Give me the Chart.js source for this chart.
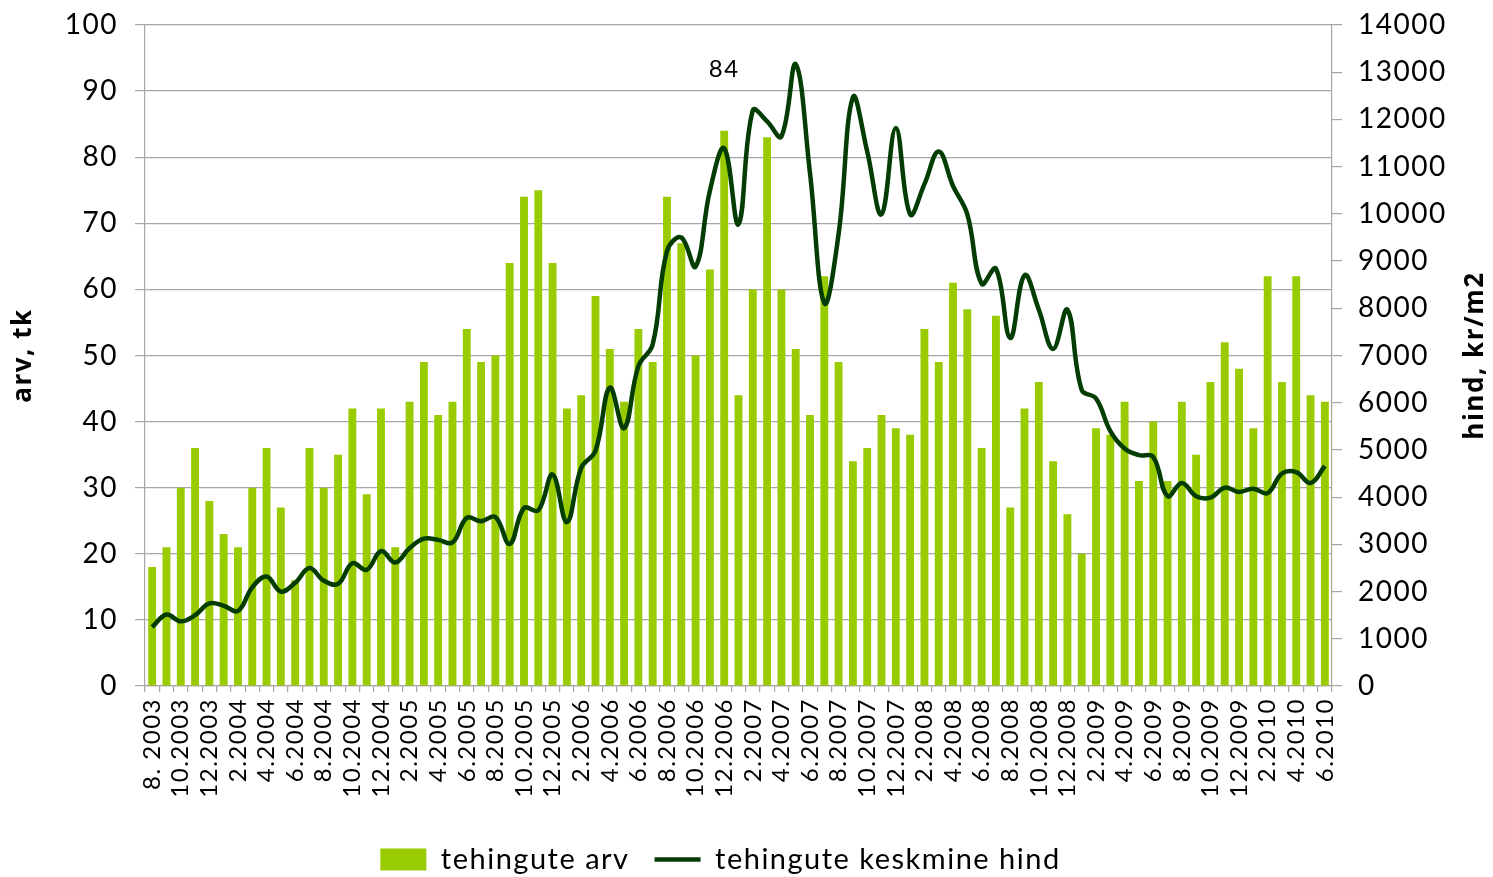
<!DOCTYPE html>
<html>
<head>
<meta charset="utf-8">
<script src="https://cdn.jsdelivr.net/npm/chart.js@4.4.1/dist/chart.umd.min.js"></script>
<style>
  html, body { margin: 0; padding: 0; background: #ffffff; overflow: hidden; }
  #wrap { width: 1493px; height: 877px; }
</style>
</head>
<body>
<div id="wrap"><canvas id="c" width="1493" height="877"></canvas></div>
<script>
// Months, Aug 2003 – Jun 2010
const months = [
  '8. 2003','9.2003','10.2003','11.2003','12.2003',
  '1.2004','2.2004','3.2004','4.2004','5.2004','6.2004','7.2004','8.2004','9.2004','10.2004','11.2004','12.2004',
  '1.2005','2.2005','3.2005','4.2005','5.2005','6.2005','7.2005','8.2005','9.2005','10.2005','11.2005','12.2005',
  '1.2006','2.2006','3.2006','4.2006','5.2006','6.2006','7.2006','8.2006','9.2006','10.2006','11.2006','12.2006',
  '1.2007','2.2007','3.2007','4.2007','5.2007','6.2007','7.2007','8.2007','9.2007','10.2007','11.2007','12.2007',
  '1.2008','2.2008','3.2008','4.2008','5.2008','6.2008','7.2008','8.2008','9.2008','10.2008','11.2008','12.2008',
  '1.2009','2.2009','3.2009','4.2009','5.2009','6.2009','7.2009','8.2009','9.2009','10.2009','11.2009','12.2009',
  '1.2010','2.2010','3.2010','4.2010','5.2010','6.2010'
];

// Number of transactions per month (left axis)
const dealCount = [
  18, 21, 30, 36, 28,
  23, 21, 30, 36, 27, 16, 36, 30, 35, 42, 29, 42,
  21, 43, 49, 41, 43, 54, 49, 50, 64, 74, 75, 64,
  42, 44, 59, 51, 43, 54, 49, 74, 67, 50, 63, 84,
  44, 60, 83, 60, 51, 41, 62, 49, 34, 36, 41, 39,
  38, 54, 49, 61, 57, 36, 56, 27, 42, 46, 34, 26,
  20, 39, 38, 43, 31, 40, 31, 43, 35, 46, 52, 48,
  39, 62, 46, 62, 44, 43
];

// Average price per m2 (right axis)
const avgPrice = [
  1250, 1515, 1370, 1500, 1750,
  1700, 1590, 2090, 2320, 2000, 2185, 2500, 2230, 2165, 2600, 2460, 2855,
  2615, 2920, 3120, 3095, 3040, 3560, 3490, 3580, 3010, 3770, 3720, 4480,
  3470, 4620, 4985, 6320, 5460, 6775, 7235, 9210, 9500, 8885, 10490, 11390,
  9780, 12190, 11960, 11640, 13170, 10860, 8110, 9575, 12470, 11320, 9990, 11820,
  9990, 10630, 11320, 10590, 9990, 8520, 8840, 7370, 8700, 7970, 7140, 7970,
  6270, 6090, 5400, 5030, 4890, 4850, 4020, 4300, 4020, 3990, 4200, 4110,
  4180, 4085, 4500, 4530, 4300, 4660
];

const countTicks = [0, 10, 20, 30, 40, 50, 60, 70, 80, 90, 100];
const priceTicks = [0, 1000, 2000, 3000, 4000, 5000, 6000, 7000, 8000, 9000, 10000, 11000, 12000, 13000, 14000];

// Months whose bar carries a value label
const labelledMonths = ['12.2006'];

const countLabel = 'tehingute arv';
const priceLabel = 'tehingute keskmine hind';
const countTitle = 'arv, tk';
const priceTitle = 'hind, kr/m2';

const GRID = '#a6a6a6';
const BAR = '#99cc00';
const LINE = '#033d03';

Chart.defaults.font.family = 'Lato';
Chart.defaults.color = '#000000';

// Slightly wider letter spacing for all chart text
const spacing = {
  id: 'spacing',
  beforeUpdate(chart) { chart.ctx.letterSpacing = '1.5px'; },
  beforeDraw(chart) { chart.ctx.letterSpacing = '1.5px'; }
};

// Move the legend row a little left and down
const legendShift = {
  id: 'legendShift',
  afterLayout(chart) {
    const lg = chart.legend;
    if (!lg) return;
    lg.right -= 52;
    lg.top += 7;
    lg.bottom += 7;
  }
};

// Value label above selected bars
const valueLabels = {
  id: 'valueLabels',
  afterDatasetsDraw(chart) {
    const meta = chart.getDatasetMeta(0);
    const ctx = chart.ctx;
    ctx.save();
    ctx.font = '24px Lato';
    ctx.fillStyle = '#000';
    ctx.textAlign = 'center';
    ctx.textBaseline = 'middle';
    labelledMonths.forEach(m => {
      const i = months.indexOf(m);
      const el = meta.data[i];
      if (el) ctx.fillText(String(dealCount[i]), el.x, el.y - 61);
    });
    ctx.restore();
  }
};

// Right axis title, reading bottom to top
const rightTitle = {
  id: 'rightTitle',
  afterDraw(chart) {
    const s = chart.scales.y1;
    const ctx = chart.ctx;
    ctx.save();
    ctx.translate(s.right - 17, (s.top + s.bottom) / 2);
    ctx.rotate(-Math.PI / 2);
    ctx.font = 'bold 26px "Open Sans"';
    ctx.fillStyle = '#000';
    ctx.textAlign = 'center';
    ctx.textBaseline = 'middle';
    ctx.fillText(priceTitle, 0, 0);
    ctx.restore();
  }
};

new Chart(document.getElementById('c'), {
  data: {
    labels: months,
    datasets: [
      {
        type: 'bar',
        label: countLabel,
        data: dealCount,
        yAxisID: 'y',
        backgroundColor: BAR,
        borderWidth: 0,
        barPercentage: 0.55,
        categoryPercentage: 1,
        pointStyle: 'rect',
        order: 1
      },
      {
        type: 'line',
        label: priceLabel,
        data: avgPrice,
        yAxisID: 'y1',
        borderColor: LINE,
        backgroundColor: LINE,
        borderWidth: 4.5,
        pointRadius: 0,
        tension: 0.4,
        fill: false,
        pointStyle: 'line',
        order: 0
      }
    ]
  },
  options: {
    responsive: false,
    animation: false,
    events: [],
    layout: { padding: { top: 25, left: 0, right: 0, bottom: 0 } },
    plugins: {
      tooltip: { enabled: false },
      legend: {
        position: 'bottom',
        labels: {
          usePointStyle: true,
          pointStyleWidth: 46,
          boxHeight: 22,
          padding: 25,
          color: '#000',
          font: { family: 'Lato', size: 29 },
          sort: (a, b) => a.datasetIndex - b.datasetIndex
        }
      }
    },
    scales: {
      x: {
        type: 'category',
        offset: true,
        grid: { drawOnChartArea: false, offset: true, tickLength: 6, color: GRID, lineWidth: 1.2 },
        border: { color: GRID, width: 1.2 },
        ticks: {
          autoSkip: false,
          minRotation: 90,
          maxRotation: 90,
          padding: 6,
          color: '#000',
          font: { family: 'Lato', size: 24 },
          callback: function (val, index) {
            return index % 2 === 0 ? this.getLabelForValue(val) : '';
          }
        },
        afterFit: (scale) => { scale.height = 127; scale.paddingLeft = 0; scale.paddingRight = 0; }
      },
      y: {
        position: 'left',
        min: 0,
        max: 100,
        afterBuildTicks: (scale) => { scale.ticks = countTicks.map(v => ({ value: v })); },
        grid: { color: GRID, lineWidth: 1.2, tickLength: 10 },
        border: { color: GRID, width: 1.2 },
        ticks: { padding: 17, color: '#000', font: { family: 'Lato', size: 28 }, callback: (v) => String(v) },
        title: {
          display: true,
          text: countTitle,
          color: '#000',
          font: { family: 'Open Sans', weight: 'bold', size: 26 },
          padding: { top: 8, bottom: 0 }
        },
        afterFit: (scale) => { scale.width = 145; scale.paddingTop = 0; scale.paddingBottom = 0; }
      },
      y1: {
        position: 'right',
        min: 0,
        max: 14000,
        afterBuildTicks: (scale) => { scale.ticks = priceTicks.map(v => ({ value: v })); },
        grid: { drawOnChartArea: false, color: GRID, lineWidth: 1.2, tickLength: 10 },
        border: { color: GRID, width: 1.2 },
        ticks: { padding: 16, color: '#000', font: { family: 'Lato', size: 28 }, callback: (v) => String(v) },
        afterFit: (scale) => { scale.width = 161; scale.paddingTop = 0; scale.paddingBottom = 0; }
      }
    }
  },
  plugins: [spacing, legendShift, valueLabels, rightTitle]
});
</script>
</body>
</html>
